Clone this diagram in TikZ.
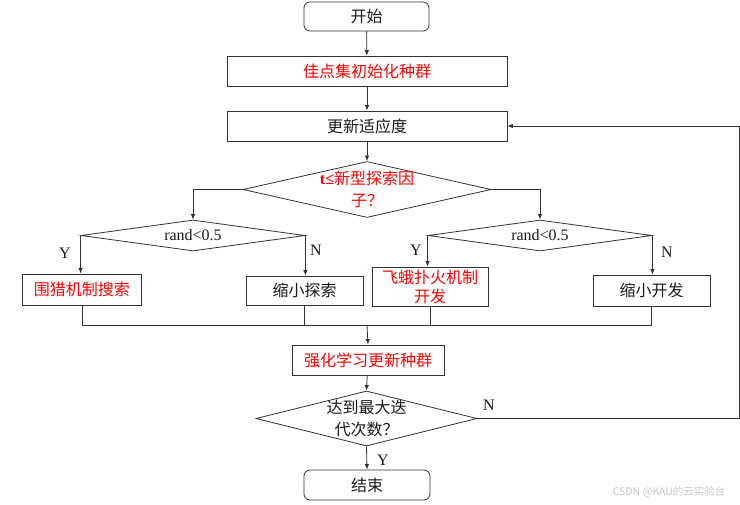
\documentclass[tikz,border=0pt]{standalone}
\usepackage{fontspec}
\setmainfont{Liberation Serif}
\newfontfamily\cjk{Noto Sans CJK SC}
\usetikzlibrary{shapes.geometric,arrows.meta}
\definecolor{ln}{HTML}{333333}
\definecolor{tx}{HTML}{1A1A1A}
\definecolor{wm}{HTML}{C8C8C8}
\tikzset{
  every node/.style={font=\fontsize{16}{20}\selectfont\cjk,text=tx},
  proc/.style={draw=ln,line width=0.8pt,rectangle,inner sep=0pt},
  term/.style={proc,rounded corners=6pt,minimum width=125pt,minimum height=29pt},
  wide/.style={proc,minimum width=280pt,minimum height=30pt},
  small/.style={proc,minimum width=118pt,minimum height=30pt},
  redtxt/.style={text=red,font=\fontsize{16}{19}\selectfont\cjk},
  dec/.style={draw=ln,line width=0.8pt,diamond,inner sep=0pt},
  lab/.style={font=\fontsize{16}{20}\selectfont},
  conn/.style={draw=ln,line width=0.8pt},
  arr/.style={conn,-{Latex[length=5.5pt,width=4.5pt]}},
}
\begin{document}
\begin{tikzpicture}[x=1pt,y=-1pt]
\useasboundingbox (0,0) rectangle (740,505);
\node[term] (start) at (366.5,16.5) {开始};
\node[wide,redtxt] (init) at (367,71) {佳点集初始化种群};
\node[wide] (fit) at (367,126) {更新适应度};
\node[dec,minimum width=248pt,minimum height=56pt,
  label={[align=center,text=red,font=\fontsize{16}{22}\selectfont\cjk]center:{{\rmfamily\bfseries t≤}新型探索因\\子？}}] (d1) at (367,189.5) {};
\node[dec,minimum width=224pt,minimum height=31pt,
  label={[font=\fontsize{16}{20}\selectfont]center:rand<0.5}] (d2) at (193,235.5) {};
\node[dec,minimum width=224pt,minimum height=31pt,
  label={[font=\fontsize{16}{20}\selectfont]center:rand<0.5}] (d3) at (540,235.5) {};
\node[small,redtxt,minimum width=119pt,minimum height=31pt] (hunt) at (82,289.5) {围猎机制搜索};
\node[small,minimum width=117pt,minimum height=29pt] (shr1) at (304.5,290.5) {缩小探索};
\node[small,redtxt,align=center,minimum width=116pt,minimum height=39pt] (moth) at (430,286.5) {飞蛾扑火机制\\开发};
\node[small,minimum width=117pt,minimum height=31pt] (shr2) at (651.5,290.5) {缩小开发};
\coordinate (m) at (367,325);
\node[proc,redtxt,minimum width=152pt,minimum height=30pt] (rl) at (368,360) {强化学习更新种群};
\node[dec,minimum width=221pt,minimum height=55pt,
  label={[align=center,font=\fontsize{16}{22}\selectfont\cjk]center:{达到最大迭\\代次数？}}] (d4) at (366.5,418.5) {};
\node[term,minimum width=126pt,minimum height=30pt] (end) at (367,485) {结束};
\coordinate (rc) at (739,126);
% labels
\node[lab] (y1) at (65,253) {Y};
\node[lab] (n1) at (316,250) {N};
\node[lab] (y2) at (416,250) {Y};
\node[lab] (n2) at (667,252) {N};
\node[lab] (n3) at (489,405) {N};
\node[lab] (y3) at (383,460) {Y};
\node[font=\fontsize{10.5}{12}\selectfont\cjk,text=wm,anchor=east] (wmk) at (729,492) {CSDN @KAU的云实验台};
% connectors
\draw[arr] (start) -- (init);
\draw[arr] (init) -- (fit);
\draw[arr] (fit) -- (d1.north);
\draw[arr] (d1.west) -| (d2.north);
\draw[arr] (d1.east) -| (d3.north);
\draw[arr] (d2.west) -- (d2.west |- hunt.north);
\draw[arr] (d2.east) -- (d2.east |- shr1.north);
\draw[arr] (d3.west) -- (d3.west |- moth.north);
\draw[arr] (d3.east) -- (d3.east |- shr2.north);
\draw[conn] (hunt.south) |- (shr2.south |- m) -- (shr2.south);
\draw[conn] (shr1.south) -- (shr1.south |- m);
\draw[conn] (moth.south) -- (moth.south |- m);
\draw[arr] (m) -- (rl.north);
\draw[arr] (rl) -- (d4.north);
\draw[arr] (d4.east) -| (rc) -- (fit.east);
\draw[arr] (d4.south) -- (end.north);
\end{tikzpicture}
\end{document}
